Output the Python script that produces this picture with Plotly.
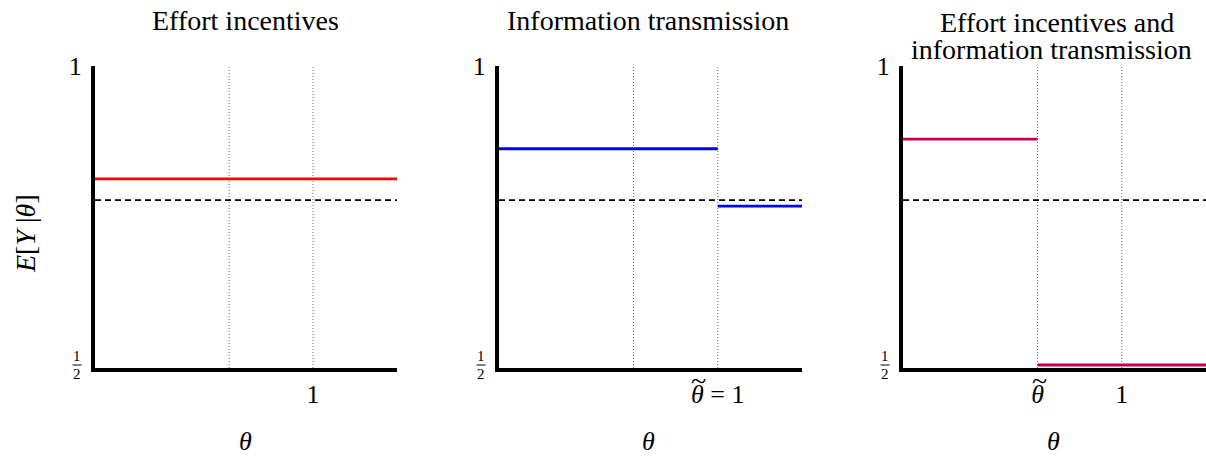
import plotly.graph_objects as go

# ---- data ----
theta_tilde = 0.615
x_max = 1.385
y_min, y_max = 0.5, 1.0
baseline = 0.778  # dashed reference line

# panel 1: effort incentives (flat)
p1_x = [0.0, x_max]
p1_y = [0.813, 0.813]

# panel 2: information transmission (jump at theta_tilde = 1)
p2_x_lo = [0.0, 1.0]
p2_y_lo = [0.863, 0.863]
p2_x_hi = [1.0, x_max]
p2_y_hi = [0.768, 0.768]

# panel 3: both (jump at theta_tilde)
p3_x_lo = [0.0, theta_tilde]
p3_y_lo = [0.879, 0.879]
p3_x_hi = [theta_tilde, x_max]
p3_y_hi = [0.505, 0.505]

dotted_x = [theta_tilde, 1.0]

titles = [["Effort incentives"], ["Information transmission"],
          ["Effort incentives and", "information transmission"]]
x_tick_vals = [[1.0], [1.0], [theta_tilde, 1.0]]
x_tick_text = [["1"], ["<i>θ</i> = 1"], ["<i>θ</i>", "1"]]
# tilde marks: (panel, x value, pixel shift)
tilde_marks = [(1, 1.0, -19), (2, theta_tilde, 2)]

FONT = "Liberation Serif"
W, H = 1206, 462
domains = [(95 / W, 397 / W), (499 / W, 802 / W), (903 / W, 1206 / W)]
ydom = (1 - 368 / H, 1 - 66 / H)

fig = go.Figure()

colors = ["#ff0000", "#0000ff", "#c8004b"]
series = [
    [(p1_x, p1_y)],
    [(p2_x_lo, p2_y_lo), (p2_x_hi, p2_y_hi)],
    [(p3_x_lo, p3_y_lo), (p3_x_hi, p3_y_hi)],
]


def ax(i):
    return ("x" if i == 0 else f"x{i+1}"), ("y" if i == 0 else f"y{i+1}")


for i in range(3):
    xa, ya = ax(i)
    for dx in dotted_x:
        fig.add_trace(go.Scatter(x=[dx, dx], y=[y_min, y_max], mode="lines",
                                 line=dict(color="#666666", width=1, dash="1px,2px"),
                                 xaxis=xa, yaxis=ya, showlegend=False, hoverinfo="skip"))
    fig.add_trace(go.Scatter(x=[0, x_max], y=[baseline, baseline], mode="lines",
                             line=dict(color="black", width=1.6, dash="6px,4px"),
                             xaxis=xa, yaxis=ya, showlegend=False, hoverinfo="skip"))
    for sx, sy in series[i]:
        fig.add_trace(go.Scatter(x=sx, y=sy, mode="lines",
                                 line=dict(color=colors[i], width=2.8),
                                 xaxis=xa, yaxis=ya, showlegend=False))

layout = dict(
    width=W, height=H,
    margin=dict(l=0, r=0, t=0, b=0, autoexpand=False),
    paper_bgcolor="white", plot_bgcolor="white",
    font=dict(family=FONT, color="black"),
)
for i in range(3):
    xa, ya = ax(i)
    kx = "xaxis" if i == 0 else f"xaxis{i+1}"
    ky = "yaxis" if i == 0 else f"yaxis{i+1}"
    layout[kx] = dict(domain=list(domains[i]), range=[0, x_max], anchor=ya,
                      showgrid=False, zeroline=False, showline=True, automargin=False,
                      linecolor="black", linewidth=4, ticks="",
                      tickvals=x_tick_vals[i], ticktext=x_tick_text[i],
                      tickfont=dict(size=26, family=FONT), ticklabelstandoff=0,
                      fixedrange=True)
    layout[ky] = dict(domain=list(ydom), range=[y_min, y_max], anchor=xa,
                      showgrid=False, zeroline=False, showline=True, automargin=False,
                      linecolor="black", linewidth=4, ticks="",
                      tickvals=[1.0], ticktext=["1"],
                      tickfont=dict(size=26, family=FONT), ticklabelstandoff=4,
                      fixedrange=True)
fig.update_layout(**layout)

title_cx = [[246], [648], [1057, 1051]]
title_cy = [[21], [21], [22, 49]]
label_cx = [246, 648, 1053]
ann = []
shapes = []
for i in range(3):
    xa, ya = ax(i)
    for t, cx, cy in zip(titles[i], title_cx[i], title_cy[i]):
        ann.append(dict(text=t, x=cx / W, y=1 - cy / H, xref="paper", yref="paper",
                        xanchor="center", yanchor="middle", showarrow=False,
                        font=dict(size=28, family=FONT)))
    ann.append(dict(text="<i>θ</i>", x=label_cx[i] / W, y=1 - 441 / H,
                    xref="paper", yref="paper", xanchor="center", yanchor="middle",
                    showarrow=False, font=dict(size=26, family=FONT)))
    # 1/2 tick label as stacked fraction
    fx = domains[i][0] * W - 18
    ann.append(dict(text="1", x=fx / W, y=1 - 356 / H, xref="paper", yref="paper",
                    xanchor="center", yanchor="middle", showarrow=False,
                    font=dict(size=15, family=FONT)))
    ann.append(dict(text="2", x=fx / W, y=1 - 374 / H, xref="paper", yref="paper",
                    xanchor="center", yanchor="middle", showarrow=False,
                    font=dict(size=15, family=FONT)))
    shapes.append(dict(type="line", xref="paper", yref="paper",
                       x0=(fx - 4.5) / W, x1=(fx + 4.5) / W,
                       y0=1 - 365 / H, y1=1 - 365 / H,
                       line=dict(color="black", width=1)))
for (p, tx, sh) in tilde_marks:
    xa, ya = ax(p)
    ann.append(dict(text="~", x=tx, y=y_min, xref=xa, yref=ya, xshift=sh, yshift=-12,
                    xanchor="center", yanchor="middle", showarrow=False,
                    font=dict(size=28, family=FONT)))
ann.append(dict(text="<i>E</i>[<i>Y</i> |<i>θ</i>]", x=26 / W, y=1 - 234 / H,
                xref="paper", yref="paper", textangle=-90, xanchor="center",
                yanchor="middle", showarrow=False, font=dict(size=28, family=FONT)))
fig.update_layout(annotations=ann, shapes=shapes)

fig.write_html("out.html", config={"displayModeBar": False},
               post_script="document.body.style.margin='0';document.body.style.overflow='hidden';")
